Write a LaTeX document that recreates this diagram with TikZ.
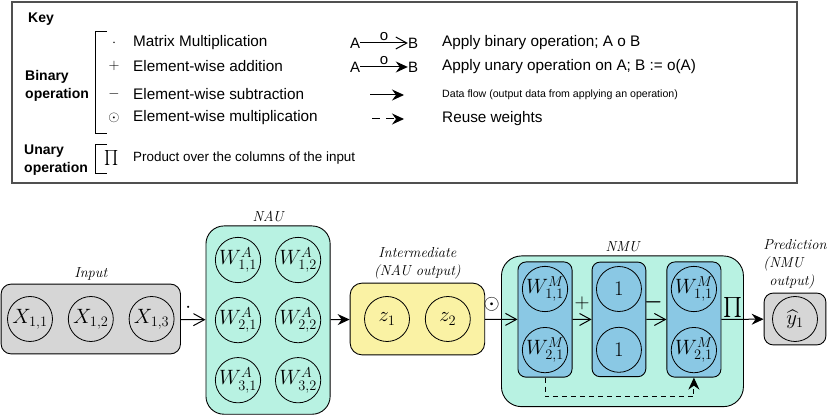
\documentclass[tikz,border=0pt]{standalone}
\usepackage{amsmath,amssymb}
\usepackage{fontspec}
\newfontfamily\keyfont{Liberation Sans}
\usetikzlibrary{arrows.meta, positioning, fit, calc, backgrounds}

\definecolor{inputgray}{RGB}{214,214,214}
\definecolor{nauteal}{RGB}{184,242,226}
\definecolor{midyellow}{RGB}{250,242,164}
\definecolor{nmublue}{RGB}{138,200,228}
\definecolor{keyborder}{RGB}{80,80,80}

\begin{document}
\begin{tikzpicture}[
        x=1pt, y=-1pt,
        >={Stealth[length=12pt, width=11pt, inset=4pt]},
        unit/.style={draw, circle, line width=0.8pt, minimum size=45pt,
            inner sep=0pt, font=\fontsize{20}{24}\selectfont},
        container/.style={draw, rectangle, line width=0.9pt,
            rounded corners=10pt},
        innerbox/.style={container, fill=nmublue, inner sep=4pt,
            rounded corners=8pt},
        layer/.style={font=\fontsize{14.5}{18}\selectfont\itshape,
            align=center},
        line/.style={draw, line width=1pt, ->},
        binop/.style={draw, line width=1pt,
            -{Straight Barb[length=11pt, width=12pt, line width=1pt]}},
        opsym/.style={font=\fontsize{20}{24}\selectfont, inner sep=1pt},
        keyop/.style={font=\fontsize{15}{17}\selectfont, inner sep=0pt},
        keytext/.style={font=\keyfont\fontsize{15.3}{17}\selectfont,
            anchor=west, inner sep=0pt},
        keyhead/.style={font=\keyfont\bfseries\fontsize{14}{17.5}\selectfont,
            align=left, anchor=west, inner sep=0pt},
        keysym/.style={font=\keyfont\fontsize{15}{17}\selectfont,
            inner sep=0pt},
    ]
    \useasboundingbox (0,0) rectangle (830,419);

    % 1. Key
    \draw[keyborder, line width=1.2pt] (12,2) rectangle (797,183);
    \node[keyhead] (keytitle) at (28,19) {Key};
    \node[keyhead] (binhead) at (25,86) {Binary\\operation};
    \node[keyhead] (unhead) at (24,160) {Unary\\operation};
    \draw[line width=0.8pt] (107,31) -- (95,31) -- (95,133) -- (107,133);
    \draw[line width=0.8pt] (107,144) -- (95,144) -- (95,173) -- (107,173);

    \node[keyop] (smul) at (114,43) {$\cdot$};
    \node[keyop] (sadd) at (114,66) {$+$};
    \node[keyop] (ssub) at (114,94) {$-$};
    \node[keyop] (shad) at (114,118) {$\odot$};
    \node[keyop] (sprod) at (112,158) {$\prod$};
    \node[keytext] (tmul) at (133,43) {Matrix Multiplication};
    \node[keytext] (tadd) at (133,66) {Element-wise addition};
    \node[keytext] (tsub) at (133,94) {Element-wise subtraction};
    \node[keytext] (thad) at (133,118) {Element-wise multiplication};
    \node[keytext, font=\keyfont\fontsize{13.4}{15}\selectfont] (tprod)
        at (133,158) {Product over the columns of the input};

    \node[keysym] (a1) at (355,43) {A};
    \node[keysym] (b1) at (413,43) {B};
    \node[keysym] (a2) at (355,67) {A};
    \node[keysym] (b2) at (413,67) {B};
    \coordinate (flowA) at (370,95);
    \coordinate (flowB) at (404,95);
    \coordinate (reuseA) at (372,119);
    \coordinate (reuseB) at (404,119);
    \node[keytext] (tbin) at (442,43) {Apply binary operation; A o B};
    \node[keytext] (tun) at (442,67) {Apply unary operation on A; B := o(A)};
    \node[keytext, font=\keyfont\fontsize{10.6}{12}\selectfont] (tflow)
        at (442,95) {Data flow (output data from applying an operation)};
    \node[keytext] (treuse) at (442,119) {Reuse weights};

    % 2. Input
    \node[unit] (x11) at (30,319) {$X_{1,1}$};
    \node[unit, right=15pt of x11] (x12) {$X_{1,2}$};
    \node[unit, right=15pt of x12] (x13) {$X_{1,3}$};

    % 3. NAU
    \node[unit] (w11) at (238,260) {$W^A_{1,1}$};
    \node[unit, right=14pt of w11] (w12) {$W^A_{1,2}$};
    \node[unit, below=14pt of w11] (w21) {$W^A_{2,1}$};
    \node[unit, below=14pt of w12] (w22) {$W^A_{2,2}$};
    \node[unit, below=14pt of w21] (w31) {$W^A_{3,1}$};
    \node[unit, below=14pt of w22] (w32) {$W^A_{3,2}$};

    % 4. Intermediate
    \node[unit] (z1) at (387,319) {$z_1$};
    \node[unit, right=15pt of z1] (z2) {$z_2$};

    % 5. NMU
    \node[unit] (m11) at (545,289) {$W^M_{1,1}$};
    \node[unit, below=15pt of m11] (m21) {$W^M_{2,1}$};
    \node[unit, right=28pt of m11] (one1) {$1$};
    \node[unit, below=15pt of one1] (one2) {$1$};
    \node[unit, right=29pt of one1] (m12) {$W^M_{1,1}$};
    \node[unit, below=15pt of m12] (m22) {$W^M_{2,1}$};
    \coordinate (reuse) at ($(m21.south)+(0,23.5)$);
    \coordinate (prodgap) at ($(m22.east)+(6,0)$);

    % 6. Prediction
    \node[unit] (yhat) at (795,319) {$\widehat{y}_1$};

    \begin{scope}[on background layer]
        \node[container, fill=inputgray, inner xsep=6pt, inner ysep=12pt,
            fit=(x11) (x13)] (inbox) {};
        \node[container, fill=nauteal, inner xsep=9pt, inner ysep=11pt,
            rounded corners=18pt, fit=(w11) (w32)] (naubox) {};
        \node[container, fill=midyellow, inner xsep=14pt, inner ysep=13pt,
            rounded corners=12pt, fit=(z1) (z2)] (midbox) {};
        \node[container, fill=nauteal, inner xsep=20.5pt, inner ysep=10pt,
            rounded corners=20pt, fit=(m11) (prodgap) (reuse)] (nmubox) {};
        \node[innerbox, fit=(m11) (m21)] (nmu1) {};
        \node[innerbox, fit=(one1) (one2)] (nmu2) {};
        \node[innerbox, fit=(m12) (m22)] (nmu3) {};
        \node[container, fill=inputgray, inner xsep=8pt, inner ysep=3pt,
            rounded corners=9pt, fit=(yhat)] (predbox) {};
    \end{scope}

    \node[layer, above=0pt of inbox] {Input};
    \node[layer, above=0pt of naubox] {NAU};
    \node[layer, above=0pt of midbox] {Intermediate\\(NAU output)};
    \node[layer, above=0pt of nmubox] {NMU};
    \node[layer, align=left, above=0pt of predbox]
        {Prediction\\(NMU\\\hspace*{6pt}output)};

    % --- Arrows ---
    \path[binop] (a1) -- (b1)
        node[midway, above, keysym, inner sep=2pt] {o};
    \path[line] (a2) -- (b2)
        node[midway, above, keysym, inner sep=2pt] {o};
    \path[line] (flowA) -- (flowB);
    \path[line, dash pattern=on 8pt off 6pt] (reuseA) -- (reuseB);

    \path[binop] (inbox) -- (naubox)
        node[pos=0.3, above=6pt, opsym] {$\cdot$};
    \path[line] (naubox) -- (midbox);
    \path[binop] (midbox) -- (nmu1)
        node[pos=0.2, above=7pt, opsym] {$\odot$};
    \path[binop] (nmu1) -- (nmu2)
        node[midway, above=8pt, opsym] {$+$};
    \path[binop] (nmu2) -- (nmu3)
        node[pos=0.35, above=8pt, opsym] {$\boldsymbol{-}$};
    \path[line] (nmu3) -- (predbox)
        node[pos=0.28, above, opsym] {$\prod$};
    \path[line, dash pattern=on 5pt off 4pt] (nmu1.south) -- (reuse)
        -| (nmu3.south);

\end{tikzpicture}
\end{document}
